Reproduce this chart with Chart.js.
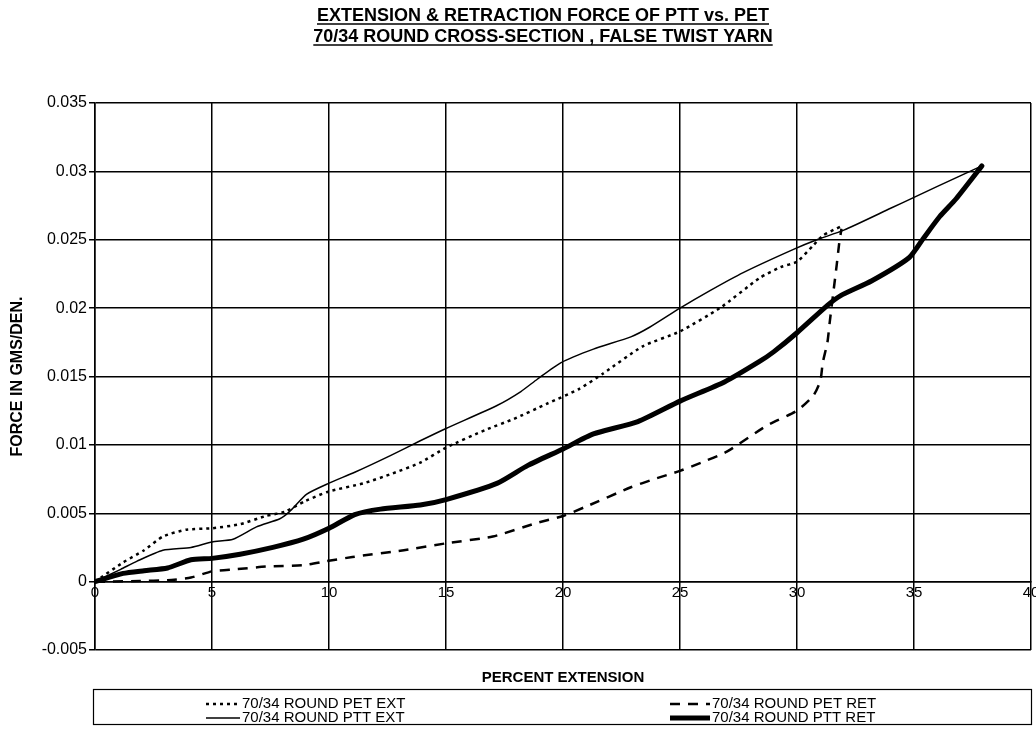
<!DOCTYPE html>
<html>
<head>
<meta charset="utf-8">
<script src="https://cdn.jsdelivr.net/npm/chart.js@4"></script>
<style>
  html, body { margin: 0; padding: 0; background: #fff; }
</style>
</head>
<body>
<canvas id="myChart" width="1036" height="736"></canvas>
<script>
// chart texts
var titleLines = ['EXTENSION & RETRACTION FORCE OF PTT vs. PET', '70/34 ROUND CROSS-SECTION , FALSE TWIST YARN'];
var xTitle = 'PERCENT EXTENSION';
var yTitle = 'FORCE IN GMS/DEN.';
var seriesNames = ['70/34 ROUND PET EXT', '70/34 ROUND PTT EXT', '70/34 ROUND PET RET', '70/34 ROUND PTT RET'];

// 70/34 ROUND PET EXT (dotted)
var petExtX = [0, 1.2, 2.1, 2.9, 3.9, 5.0, 6.2, 7.3, 8.1, 9.0, 10.0, 11.5, 12.7, 13.9, 15.0, 16.7, 17.9, 19.3, 20.7, 21.7, 23.4, 25.0, 26.7, 28.4, 29.3, 30.0, 30.7, 31.1, 31.9];
var petExtY = [0, 0.0014, 0.0023, 0.0033, 0.0038, 0.0039, 0.0042, 0.0048, 0.0051, 0.0059, 0.0066, 0.0072, 0.0079, 0.0087, 0.0098, 0.0111, 0.0119, 0.0130, 0.0141, 0.0152, 0.0172, 0.0183, 0.0200, 0.0222, 0.0230, 0.0234, 0.0246, 0.0253, 0.0260];

// 70/34 ROUND PTT EXT (thin solid)
var pttExtX = [0, 1.1, 1.8, 2.9, 4.1, 5.0, 5.9, 6.9, 7.9, 8.3, 9.05, 10.0, 11.1, 12.6, 13.9, 15.0, 17.2, 18.2, 18.9, 19.9, 21.3, 22.9, 23.7, 25.0, 26.3, 27.7, 29.85, 30.85, 32.0, 34.0, 35.0, 36.0, 37.9];
var pttExtY = [0, 0.0009, 0.0015, 0.0023, 0.0025, 0.0029, 0.0031, 0.0040, 0.0046, 0.0051, 0.0064, 0.0072, 0.0080, 0.0092, 0.0103, 0.0112, 0.0129, 0.0139, 0.0148, 0.0160, 0.0170, 0.0179, 0.0186, 0.0200, 0.0213, 0.0226, 0.0243, 0.0250, 0.0257, 0.0273, 0.0281, 0.0289, 0.0304];

// 70/34 ROUND PET RET (dashed)
var petRetX = [0, 0.5, 1.9, 3.1, 4.1, 5.0, 6.0, 7.3, 8.9, 9.9, 11.0, 13.2, 15.0, 17.0, 18.9, 20.0, 21.0, 22.9, 23.9, 25.0, 25.9, 27.0, 28.7, 30.0, 30.7, 31.0, 31.1, 31.3, 31.4, 31.6, 31.7, 31.8, 31.9];
var petRetY = [0, 0, 0.00005, 0.0001, 0.0003, 0.00075, 0.0009, 0.0011, 0.0012, 0.0015, 0.0018, 0.0023, 0.0028, 0.0033, 0.0043, 0.0048, 0.0055, 0.0069, 0.0075, 0.0081, 0.0087, 0.0095, 0.0114, 0.0125, 0.0136, 0.0147, 0.0160, 0.0175, 0.0190, 0.0218, 0.0232, 0.0247, 0.0258];

// 70/34 ROUND PTT RET (thick solid)
var pttRetX = [0, 1.2, 2.1, 3.1, 4.1, 5.0, 6.2, 7.6, 8.9, 10.0, 11.1, 12.2, 13.9, 15.0, 17.2, 18.5, 20.0, 21.3, 23.2, 25.0, 26.9, 28.4, 29.0, 30.0, 31.3, 31.85, 33.2, 34.8, 35.4, 36.1, 36.8, 37.9];
var pttRetY = [0, 0.0006, 0.0008, 0.0010, 0.0016, 0.0017, 0.0020, 0.0025, 0.0031, 0.0039, 0.0049, 0.0053, 0.0056, 0.0060, 0.0072, 0.0085, 0.0097, 0.0108, 0.0117, 0.0132, 0.0146, 0.0161, 0.0168, 0.0182, 0.0202, 0.0209, 0.0220, 0.0237, 0.0251, 0.0267, 0.0280, 0.0304];

// axis ranges
var xMin = 0, xMax = 40, xStep = 5;
var yMin = -0.005, yMax = 0.035, yStep = 0.005;

function toPoints(xs, ys) {
    return xs.map(function (x, i) { return { x: x, y: ys[i] }; });
}

var FONT = "'Liberation Sans', Arial, sans-serif";
var NARROW = "'Liberation Sans Narrow', 'Liberation Sans', Arial, sans-serif";

// titre souligné + légende encadrée
var decorPlugin = {
    id: 'decor',
    afterDraw: function (chart) {
        var ctx = chart.ctx;
        ctx.save();
        ctx.fillStyle = '#000';
        ctx.strokeStyle = '#000';
        ctx.setLineDash([]);

        // title
        ctx.font = 'bold 18px ' + FONT;
        ctx.textAlign = 'center';
        ctx.textBaseline = 'alphabetic';
        titleLines.forEach(function (t, i) {
            var y = 21 + i * 21;
            ctx.fillText(t, 543, y);
            var w = ctx.measureText(t).width;
            ctx.lineWidth = 1.6;
            ctx.beginPath();
            ctx.moveTo(543 - w / 2, y + 3);
            ctx.lineTo(543 + w / 2, y + 3);
            ctx.stroke();
        });

        // legend box
        ctx.lineWidth = 1.2;
        ctx.strokeRect(93.5, 689.5, 938, 35);

        var cols = [{ x0: 206, x1: 240 }, { x0: 670, x1: 710 }];
        ctx.font = '15px ' + NARROW;
        ctx.textAlign = 'left';
        ctx.textBaseline = 'middle';
        chart.data.datasets.forEach(function (ds, i) {
            var col = cols[Math.floor(i / 2)];
            var y = 704 + (i % 2) * 14;
            ctx.save();
            ctx.lineWidth = ds.borderWidth;
            ctx.setLineDash(ds.borderDash || []);
            ctx.beginPath();
            ctx.moveTo(col.x0, y);
            ctx.lineTo(col.x1, y);
            ctx.stroke();
            ctx.restore();
            ctx.fillText(ds.label, col.x1 + 2, y);
        });
        ctx.restore();
    }
};

const ctx = document.getElementById('myChart').getContext('2d');
const myChart = new Chart(ctx, {
    type: 'line',
    data: {
        datasets: [{
            label: seriesNames[0],
            data: toPoints(petExtX, petExtY),
            borderColor: '#000',
            borderWidth: 2.5,
            borderDash: [3, 4],
            pointRadius: 0,
            tension: 0.2,
            fill: false
        }, {
            label: seriesNames[1],
            data: toPoints(pttExtX, pttExtY),
            borderColor: '#000',
            borderWidth: 1.5,
            pointRadius: 0,
            tension: 0.2,
            fill: false
        }, {
            label: seriesNames[2],
            data: toPoints(petRetX, petRetY),
            borderColor: '#000',
            borderWidth: 2.5,
            borderDash: [10, 8],
            pointRadius: 0,
            tension: 0.2,
            fill: false
        }, {
            label: seriesNames[3],
            data: toPoints(pttRetX, pttRetY),
            borderColor: '#000',
            borderWidth: 5,
            borderCapStyle: 'round',
            pointRadius: 0,
            tension: 0.2,
            fill: false
        }]
    },
    options: {
        responsive: false,
        animation: false,
        devicePixelRatio: 1,
        layout: {
            padding: { top: 103, right: 5, bottom: 46, left: 0 }
        },
        plugins: {
            legend: { display: false },
            title: { display: false },
            tooltip: { enabled: false }
        },
        scales: {
            x: {
                type: 'linear',
                position: { y: 0 },
                min: xMin,
                max: xMax,
                ticks: {
                    stepSize: xStep,
                    color: '#000',
                    padding: 2,
                    maxRotation: 0,
                    font: { family: NARROW, size: 15 }
                },
                grid: { color: '#000', lineWidth: 1.5, drawTicks: false },
                border: { color: '#000', width: 1.5 },
                afterFit: function (scale) { scale.paddingLeft = 0; scale.paddingRight = 0; }
            },
            x2: {
                type: 'linear',
                position: 'bottom',
                min: xMin,
                max: xMax,
                ticks: { display: false },
                grid: { display: false, drawTicks: false },
                border: { display: false },
                title: {
                    display: true,
                    text: xTitle,
                    color: '#000',
                    font: { family: FONT, size: 15, weight: 'bold' },
                    padding: { top: 0, bottom: 3 }
                },
                afterFit: function (scale) { scale.height = 40; scale.paddingLeft = 0; scale.paddingRight = 0; }
            },
            y: {
                type: 'linear',
                position: 'left',
                min: yMin,
                max: yMax,
                ticks: {
                    stepSize: yStep,
                    color: '#000',
                    padding: 2,
                    font: { family: FONT, size: 16 },
                    callback: function (v) { return String(+v.toFixed(3)); }
                },
                grid: { color: '#000', lineWidth: 1.5, tickLength: 6 },
                border: { color: '#000', width: 1.5 },
                title: {
                    display: true,
                    text: yTitle,
                    color: '#000',
                    font: { family: FONT, size: 16, weight: 'bold' },
                    padding: { top: 8, bottom: 0 }
                },
                afterFit: function (scale) { scale.width = 95; }
            }
        }
    },
    plugins: [decorPlugin]
});
</script>
</body>
</html>
